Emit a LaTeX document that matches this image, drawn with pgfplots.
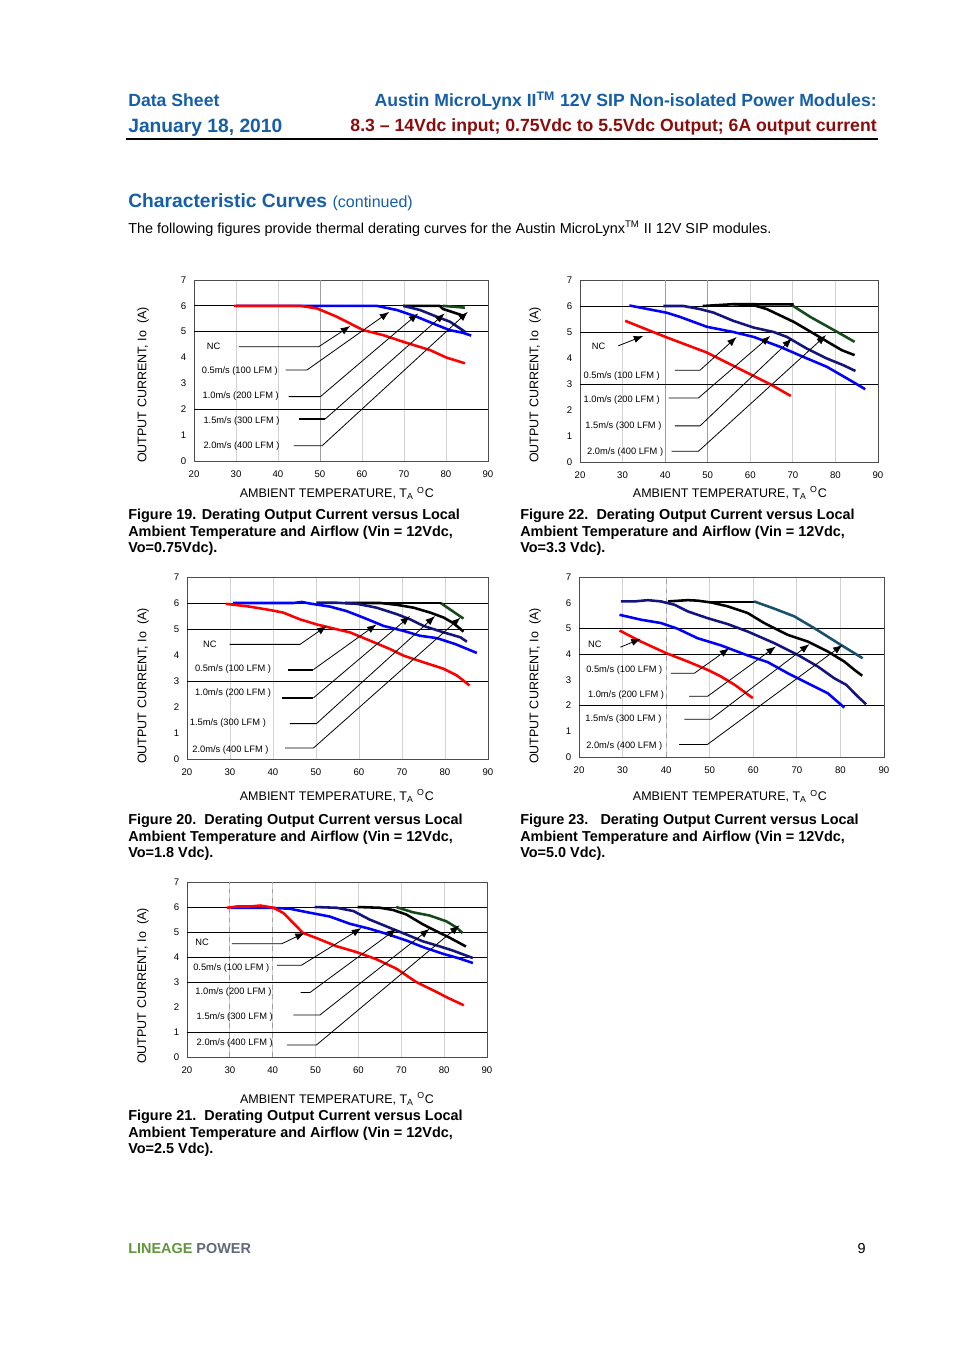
\documentclass[border=0pt]{standalone}
\usepackage{fontspec}
\setmainfont{Liberation Sans}
\usepackage{pgfplots}
\pgfplotsset{compat=1.18}
\usetikzlibrary{arrows.meta}
\definecolor{hblue}{RGB}{22,95,168}
\definecolor{hred}{RGB}{140,12,12}
\definecolor{lgreen}{RGB}{95,150,60}
\definecolor{lgray}{RGB}{95,105,120}
\definecolor{cred}{RGB}{255,0,0}
\definecolor{cblue}{RGB}{0,0,255}
\definecolor{cnavy}{RGB}{20,20,125}
\definecolor{cgreen}{RGB}{20,75,25}
\definecolor{cteal}{RGB}{25,80,110}
\pgfplotsset{
 dc/.style={
  scale only axis, xmin=20, xmax=90, ymin=0, ymax=7,
  xtick={20,30,...,90}, ytick={0,1,...,7},
  major tick length=0pt,
  tick label style={font=\fontsize{6}{7}\selectfont},
  /pgf/number format/assume math mode=true,
  xmajorgrids, major x grid style={gray!35, line width=0.6pt},
  axis line style={gray!60!black, line width=0.5pt},
  clip=false,
  xticklabel style={yshift=-2.3pt},
  yticklabel style={xshift=-1.3pt},
  label style={font=\fontsize{7.8}{9}\selectfont},
  xlabel={AMBIENT TEMPERATURE, T\textsubscript{A} \textsuperscript{O}C},
  ylabel={OUTPUT CURRENT, Io\ \ (A)},
 },
 cur/.style={line width=1.6pt, line join=round, forget plot},
 hl/.style={black, line width=0.6pt, forget plot},
 vg/.style={gray!75, line width=0.6pt, forget plot},
 vgd/.style={gray!75, line width=0.6pt, dash pattern=on 3pt off 3pt, forget plot},
 ann/.style={black, line width=0.5pt, forget plot, -{Latex[length=6pt,width=4.5pt]}},
 thk/.style={black, line width=1.3pt, forget plot},
}
\tikzset{lab/.style={anchor=west, inner sep=0pt, font=\fontsize{5.8}{7}\selectfont},
 figcap/.style={anchor=base west, inner sep=0pt, font=\bfseries\fontsize{9}{10}\selectfont}}
\begin{document}
\begin{tikzpicture}[x=0.6237pt,y=-0.6237pt]
\fill[white] (0,0) rectangle (954,1351);
% ---------- header ----------
\node[anchor=base west,inner sep=0,text=hblue,font=\bfseries\fontsize{11}{13}\selectfont] at (128,107) {Data Sheet};
\node[anchor=base west,inner sep=0,text=hblue,font=\bfseries\fontsize{12}{14}\selectfont] at (128,133) {January 18, 2010};
\node[anchor=base east,inner sep=0,text=hblue,font=\bfseries\fontsize{11}{13}\selectfont] at (877,107) {Austin MicroLynx II\textsuperscript{TM} 12V SIP Non-isolated Power Modules:};
\node[anchor=base east,inner sep=0,text=hred,font=\bfseries\fontsize{11}{13}\selectfont] at (877,132) {8.3 – 14Vdc input; 0.75Vdc to 5.5Vdc Output; 6A output current};
\draw[black, line width=1.3pt] (126,139) -- (878,139);
\node[anchor=base west,inner sep=0,text=hblue] at (128,208) {\bfseries\fontsize{12}{14}\selectfont Characteristic Curves \mdseries\fontsize{10}{12}\selectfont(continued)};
\node[anchor=base west,inner sep=0,font=\fontsize{9}{11}\selectfont] at (128,234) {The following figures provide thermal derating curves for the Austin MicroLynx\textsuperscript{TM} II 12V SIP modules.};
% ---------- footer ----------
\node[anchor=base west,inner sep=0,font=\bfseries\fontsize{9}{11}\selectfont] at (128,1253) {\textcolor{lgreen}{LINEAGE} \textcolor{lgray}{POWER}};
\node[anchor=base east,inner sep=0,font=\fontsize{9}{11}\selectfont] at (866,1253) {9};

% ================= Figure 19 =================
\begin{axis}[dc, at={(120.998pt,-287.53pt)}, anchor=south west, width=183.37pt, height=112.89pt,
  xlabel style={at={(axis description cs:0.486,-0.177)},anchor=center},
  ylabel style={at={(axis description cs:-0.173,0.42)},anchor=center}]
\addplot[vg] coordinates {(50,0) (50,7)};
\addplot[hl] coordinates {(20,2) (90,2)};
\addplot[hl] coordinates {(20,5) (90,5)};
\addplot[hl] coordinates {(20,6) (90,6)};
\addplot[cur,cgreen] coordinates {(79.3,6.0) (84.5,5.93)};
\addplot[cur,black] coordinates {(69.8,6.0) (78.5,6.0) (79.3,5.88) (84.5,5.6)};
\addplot[cur,cnavy] coordinates {(69.8,6.0) (73.8,5.84) (77.8,5.58) (80.9,5.39) (84.5,5.0)};
\addplot[cur,cblue] coordinates {(30,6.0) (63.5,6.0) (68.3,5.84) (73,5.58) (77.8,5.26) (80.9,5.06) (84,4.96) (86,4.85)};
\addplot[cur,cred] coordinates {(29.5,6.0) (45.3,6.0) (49.3,5.9) (54,5.58) (60.3,5.06) (65,4.87) (70.6,4.57) (76.2,4.29) (80.1,4.0) (84.5,3.78)};
\node[lab] at (axis cs:23.0,4.45) {NC};
\node[lab] at (axis cs:21.8,3.49) {0.5m/s (100 LFM )};
\node[lab] at (axis cs:22.0,2.51) {1.0m/s (200 LFM )};
\node[lab] at (axis cs:22.2,1.56) {1.5m/s (300 LFM )};
\node[lab] at (axis cs:22.2,0.59) {2.0m/s (400 LFM )};
\addplot[ann] coordinates {(30.7,4.42) (49.7,4.42) (57.2,5.22)};
\addplot[ann] coordinates {(41.8,3.52) (46.9,3.52) (66.5,5.77)};
\addplot[ann] coordinates {(42.5,2.49) (50.1,2.49) (73.4,5.71)};
\addplot[thk] coordinates {(45.1,1.62) (51.2,1.62)};
\addplot[ann] coordinates {(51.2,1.62) (79.7,5.71)};
\addplot[ann] coordinates {(43.8,0.59) (50.5,0.59) (85.2,5.77)};
\end{axis}
\node[figcap] at (128,519) {Figure 19. Derating Output Current versus Local};
\node[figcap] at (128,536) {Ambient Temperature and Airflow (Vin = 12Vdc,};
\node[figcap] at (128,552) {Vo=0.75Vdc).};

% ================= Figure 22 =================
\begin{axis}[dc, at={(361.75pt,-288.15pt)}, anchor=south west, width=185.86pt, height=113.51pt,
  xlabel style={at={(axis description cs:0.503,-0.170)},anchor=center},
  ylabel style={at={(axis description cs:-0.151,0.423)},anchor=center}]
\addplot[vg] coordinates {(40,0) (40,7)};
\addplot[vg] coordinates {(50,0) (50,7)};
\addplot[hl] coordinates {(20,3) (90,3)};
\addplot[hl] coordinates {(20,5) (90,5)};
\addplot[hl] coordinates {(20,6) (90,6)};
\addplot[cur,cgreen] coordinates {(69.5,6.06) (74.1,5.58) (81.1,4.94) (84.5,4.62)};
\addplot[cur,black] coordinates {(56,6.07) (70.2,6.06)};
\addplot[cur,black] coordinates {(48.8,6.0) (56,6.07) (60.8,6.03) (63.9,5.88) (70.2,5.39) (74.9,4.94) (78.8,4.56) (81.5,4.3) (84.5,4.11)};
\addplot[cur,cnavy] coordinates {(39.6,6.0) (44.3,6.0) (48.2,5.88) (51.3,5.75) (56,5.43) (60.8,5.17) (65.5,5.0) (68.6,4.81) (73.3,4.36) (78,3.98) (81.9,3.72) (84.7,3.5)};
\addplot[cur,cblue] coordinates {(31.6,6.02) (40.4,5.74) (43.5,5.58) (49.8,5.2) (56,5.0) (60.8,4.81) (67,4.43) (72.5,4.04) (78,3.66) (83.5,3.14) (87,2.8)};
\addplot[cur,cred] coordinates {(30.6,5.43) (40.4,4.79) (49.8,4.21) (57.6,3.57) (64.7,2.99) (69.5,2.54)};
\node[lab] at (axis cs:22.7,4.45) {NC};
\node[lab] at (axis cs:20.8,3.32) {0.5m/s (100 LFM )};
\node[lab] at (axis cs:20.8,2.40) {1.0m/s (200 LFM )};
\node[lab] at (axis cs:21.2,1.40) {1.5m/s (300 LFM )};
\node[lab] at (axis cs:21.6,0.39) {2.0m/s (400 LFM )};
\addplot[ann] coordinates {(29,4.47) (34.9,4.85)};
\addplot[ann] coordinates {(42.3,3.53) (48.2,3.53) (56.8,4.81)};
\addplot[ann] coordinates {(40.8,2.46) (47.8,2.46) (64.7,4.85)};
\addplot[ann] coordinates {(42.3,1.39) (48.2,1.39) (69.8,4.75)};
\addplot[ann] coordinates {(41.5,0.41) (47.8,0.41) (77.8,4.88)};
\end{axis}
\node[figcap] at (520,519) {Figure 22.\ \ Derating Output Current versus Local};
\node[figcap] at (520,536) {Ambient Temperature and Airflow (Vin = 12Vdc,};
\node[figcap] at (520,552) {Vo=3.3 Vdc).};

% ================= Figure 20 =================
\begin{axis}[dc, at={(116.63pt,-473.39pt)}, anchor=south west, width=187.73pt, height=113.51pt,
  xlabel style={at={(axis description cs:0.498,-0.203)},anchor=center},
  ylabel style={at={(axis description cs:-0.146,0.401)},anchor=center}]
\addplot[hl] coordinates {(20,3) (90,3)};
\addplot[hl] coordinates {(20,5) (90,5)};
\addplot[hl] coordinates {(20,6) (90,6)};
\addplot[cur,cgreen] coordinates {(79,6.0) (84.3,5.4)};
\addplot[cur,black] coordinates {(65,6.0) (79,6.0)};
\addplot[cur,black] coordinates {(56.8,6.0) (65,6.0) (68.8,5.93) (72.7,5.82) (76.6,5.63) (79.7,5.44) (82,5.22) (84.3,4.9)};
\addplot[cur,cnavy] coordinates {(50.1,6.01) (54.8,6.01) (59.5,5.97) (64.1,5.82) (68.8,5.57) (71.9,5.37) (75,5.12) (79.7,4.87) (83.6,4.68) (85.1,4.51)};
\addplot[cur,cblue] coordinates {(30.7,6.0) (44.7,6.0) (46.7,6.04) (48.6,5.98) (53.3,5.86) (57.1,5.69) (61,5.44) (65.7,5.12) (70.3,4.93) (74.2,4.74) (78.1,4.65) (82.4,4.42) (87.4,4.08)};
\addplot[cur,cred] coordinates {(29,5.97) (34.6,5.86) (39.3,5.73) (42.4,5.63) (46.3,5.37) (50.1,5.18) (54.8,4.99) (57.9,4.87) (62.6,4.55) (67.2,4.23) (70.3,3.98) (75,3.72) (79.7,3.47) (82.8,3.21) (85.7,2.83)};
\node[lab] at (axis cs:23.7,4.41) {NC};
\node[lab] at (axis cs:21.8,3.47) {0.5m/s (100 LFM )};
\node[lab] at (axis cs:21.8,2.52) {1.0m/s (200 LFM )};
\node[lab] at (axis cs:20.6,1.37) {1.5m/s (300 LFM )};
\node[lab] at (axis cs:21.2,0.36) {2.0m/s (400 LFM )};
\addplot[ann] coordinates {(29.9,4.41) (46.3,4.41) (52.5,5.12)};
\addplot[thk] coordinates {(43.5,3.44) (49.4,3.44)};
\addplot[ann] coordinates {(49.4,3.44) (64.1,5.18)};
\addplot[thk] coordinates {(42.1,2.35) (49.4,2.35)};
\addplot[ann] coordinates {(49.4,2.35) (71.9,5.5)};
\addplot[ann] coordinates {(43.9,1.36) (50.1,1.36) (77.7,5.5)};
\addplot[ann] coordinates {(42.8,0.42) (49.4,0.42) (83.6,5.44)};
\end{axis}
\node[figcap] at (128,824) {Figure 20.\ \ Derating Output Current versus Local};
\node[figcap] at (128,841) {Ambient Temperature and Airflow (Vin = 12Vdc,};
\node[figcap] at (128,857) {Vo=1.8 Vdc).};

% ================= Figure 23 =================
\begin{axis}[dc, at={(361.12pt,-472.14pt)}, anchor=south west, width=190.23pt, height=112.27pt,
  xlabel style={at={(axis description cs:0.495,-0.217)},anchor=center},
  ylabel style={at={(axis description cs:-0.144,0.394)},anchor=center}]
\addplot[vgd] coordinates {(40,0) (40,7)};
\addplot[hl] coordinates {(20,2) (90,2)};
\addplot[hl] coordinates {(20,4) (90,4)};
\addplot[hl] coordinates {(20,5) (90,5)};
\addplot[cur,cteal] coordinates {(60.2,6.05) (64.8,5.77) (69.4,5.47) (74,5.01) (80.1,4.36) (85.1,3.84)};
\addplot[cur,black] coordinates {(50.3,6.03) (60.2,6.03)};
\addplot[cur,black] coordinates {(40.4,6.05) (45,6.1) (47.2,6.08) (50.3,6.01) (54.1,5.86) (58.7,5.6) (62.5,5.21) (67.9,4.75) (72.5,4.49) (77.1,4.1) (80.9,3.71) (83.2,3.39) (85,3.16)};
\addplot[cur,cnavy] coordinates {(29.6,6.05) (32.7,6.05) (35.8,6.1) (38.8,6.05) (41.9,5.92) (45,5.66) (49.5,5.4) (54.1,5.17) (58.7,4.88) (64.8,4.43) (70.2,3.97) (74.8,3.52) (78.6,3.06) (81.3,2.81) (84,2.35) (85.9,2.05)};
\addplot[cur,cblue] coordinates {(29.3,5.53) (34.2,5.34) (38.8,5.21) (42.6,4.99) (47.2,4.62) (52.6,4.34) (58.7,3.95) (63.3,3.69) (67.9,3.26) (72.5,2.87) (77.1,2.48) (80.9,1.92)};
\addplot[cur,cred] coordinates {(29.3,4.92) (34.2,4.49) (40,4.04) (45,3.71) (49.5,3.39) (52.6,3.13) (55.7,2.81) (59.9,2.29)};
\node[lab] at (axis cs:22.0,4.39) {NC};
\node[lab] at (axis cs:21.6,3.39) {0.5m/s (100 LFM )};
\node[lab] at (axis cs:22.0,2.42) {1.0m/s (200 LFM )};
\node[lab] at (axis cs:21.4,1.48) {1.5m/s (300 LFM )};
\node[lab] at (axis cs:21.6,0.44) {2.0m/s (400 LFM )};
\addplot[ann] coordinates {(29.5,4.27) (34.2,4.6)};
\addplot[ann] coordinates {(41.1,3.26) (46.5,3.26) (54.5,4.23)};
\addplot[ann] coordinates {(45.3,2.36) (49.5,2.36) (65.2,4.3)};
\addplot[ann] coordinates {(44.2,1.47) (50.3,1.47) (72.9,4.39)};
\addplot[ann] coordinates {(43,0.49) (49.5,0.49) (80.5,4.36)};
\end{axis}
\node[figcap] at (520,824) {Figure 23.\ \ \ Derating Output Current versus Local};
\node[figcap] at (520,841) {Ambient Temperature and Airflow (Vin = 12Vdc,};
\node[figcap] at (520,857) {Vo=5.0 Vdc).};

% ================= Figure 21 =================
\begin{axis}[dc, at={(116.63pt,-659.25pt)}, anchor=south west, width=187.11pt, height=109.15pt,
  xlabel style={at={(axis description cs:0.5,-0.24)},anchor=center},
  ylabel style={at={(axis description cs:-0.147,0.406)},anchor=center}]
\addplot[vgd] coordinates {(30,0) (30,7)};
\addplot[vgd] coordinates {(40,0) (40,7)};
\addplot[hl] coordinates {(20,1) (90,1)};
\addplot[hl] coordinates {(20,3) (90,3)};
\addplot[hl] coordinates {(20,4) (90,4)};
\addplot[hl] coordinates {(20,5) (90,5)};
\addplot[hl] coordinates {(20,6) (90,6)};
\addplot[cur,cgreen] coordinates {(68.8,6.0) (72.7,5.79) (76.6,5.66) (80.5,5.43) (82.8,5.19) (84.3,4.96)};
\addplot[cur,black] coordinates {(59.8,6.0) (65,5.97) (68.1,5.88) (71.2,5.7) (75,5.31) (78.1,5.04) (81.2,4.78) (85.1,4.42)};
\addplot[cur,cnavy] coordinates {(49.8,6.0) (54.9,5.97) (58.8,5.84) (62.6,5.5) (67.3,5.17) (71.2,4.9) (75,4.63) (78.9,4.43) (82,4.26) (86.7,3.96)};
\addplot[cur,cblue] coordinates {(30.1,5.97) (39.4,5.97) (44,5.93) (48.7,5.77) (53.3,5.62) (58,5.33) (62.6,5.13) (66.5,4.93) (71.2,4.66) (75,4.4) (79.7,4.13) (83.6,3.94) (86.7,3.76)};
\addplot[cur,cred] coordinates {(29.3,5.97) (31.6,6.02) (34.7,6.02) (37.1,6.06) (40.2,5.97) (42.5,5.76) (44.8,5.36) (47.1,4.96) (50.2,4.76) (54.9,4.43) (59.5,4.2) (64.2,3.91) (68.8,3.54) (73.5,3.0) (78.1,2.61) (81.2,2.34) (84.6,2.07)};
\node[lab] at (axis cs:21.9,4.57) {NC};
\node[lab] at (axis cs:21.4,3.54) {0.5m/s (100 LFM )};
\node[lab] at (axis cs:21.9,2.61) {1.0m/s (200 LFM )};
\node[lab] at (axis cs:22.2,1.58) {1.5m/s (300 LFM )};
\node[lab] at (axis cs:22.2,0.55) {2.0m/s (400 LFM )};
\addplot[ann] coordinates {(30.5,4.53) (42.1,4.53) (47.5,4.97)};
\addplot[ann] coordinates {(41,3.67) (46.7,3.67) (60.7,5.16)};
\addplot[ann] coordinates {(46.5,2.58) (48.7,2.58) (68.9,5.13)};
\addplot[ann] coordinates {(44.8,1.68) (51,1.68) (76.6,5.13)};
\addplot[ann] coordinates {(43.3,0.48) (50.2,0.48) (83.6,5.27)};
\end{axis}
\node[figcap] at (128,1120) {Figure 21.\ \ Derating Output Current versus Local};
\node[figcap] at (128,1137) {Ambient Temperature and Airflow (Vin = 12Vdc,};
\node[figcap] at (128,1153) {Vo=2.5 Vdc).};
\end{tikzpicture}
\end{document}
